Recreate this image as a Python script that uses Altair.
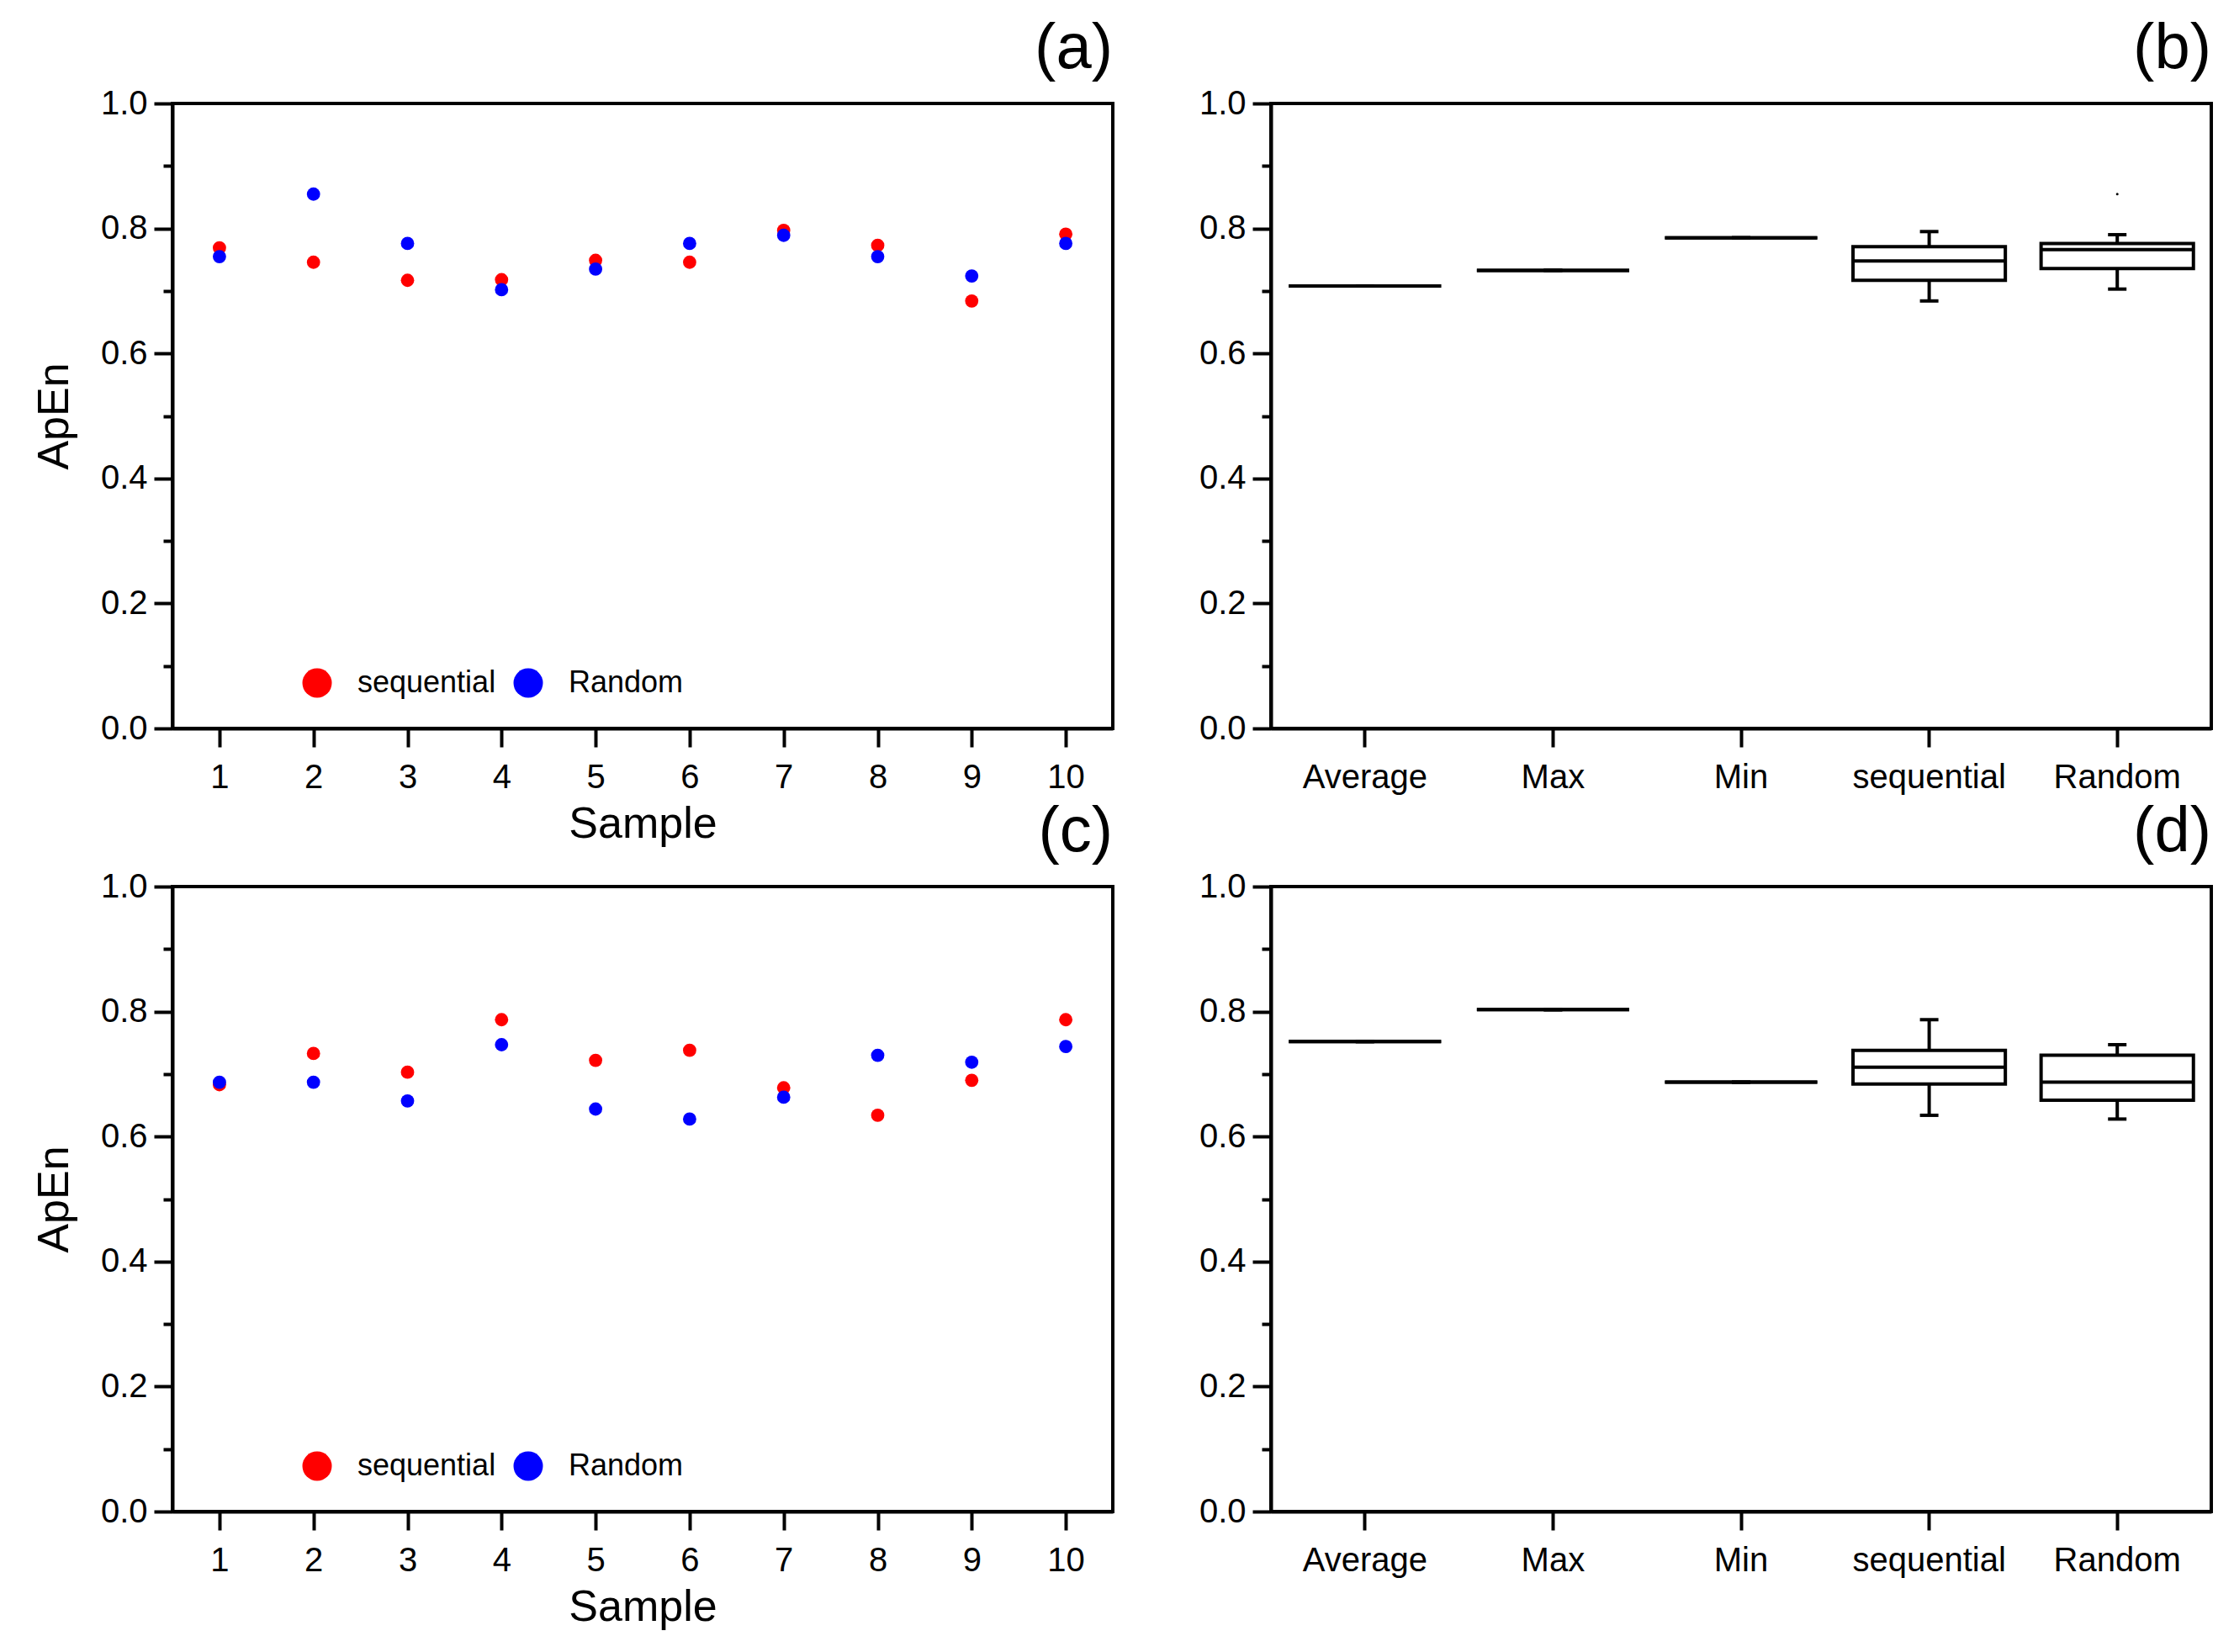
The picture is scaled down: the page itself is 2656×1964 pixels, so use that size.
import altair as alt
import pandas as pd

# panel (a) / (c): ApEn per sample
samples = [1, 2, 3, 4, 5, 6, 7, 8, 9, 10]
a_seq = [0.769, 0.746, 0.717, 0.718, 0.749, 0.746, 0.797, 0.773, 0.684, 0.791]
a_rnd = [0.755, 0.855, 0.776, 0.702, 0.735, 0.776, 0.789, 0.755, 0.724, 0.776]
c_seq = [0.683, 0.733, 0.703, 0.787, 0.722, 0.738, 0.678, 0.634, 0.690, 0.787]
c_rnd = [0.687, 0.687, 0.657, 0.747, 0.644, 0.628, 0.663, 0.730, 0.719, 0.744]
groups = ["sequential", "Random"]
group_colors = ["#ff0000", "#0000ff"]

# panel (b) / (d): box summaries
cats = ["Average", "Max", "Min", "sequential", "Random"]
b_low = [0.708, 0.733, 0.785, 0.684, 0.703]
b_q1 = [0.708, 0.733, 0.785, 0.717, 0.736]
b_med = [0.708, 0.733, 0.785, 0.748, 0.766]
b_q3 = [0.708, 0.733, 0.785, 0.771, 0.776]
b_high = [0.708, 0.733, 0.785, 0.795, 0.790]
b_out_cat = ["Random"]
b_out_val = [0.855]

d_low = [0.752, 0.803, 0.687, 0.634, 0.628]
d_q1 = [0.752, 0.803, 0.687, 0.684, 0.658]
d_med = [0.752, 0.803, 0.687, 0.711, 0.687]
d_q3 = [0.752, 0.803, 0.687, 0.738, 0.730]
d_high = [0.752, 0.803, 0.687, 0.787, 0.747]

major = [0.0, 0.2, 0.4, 0.6, 0.8, 1.0]
minor = [0.1, 0.3, 0.5, 0.7, 0.9]

PW, PH = 1118, 743
LW = 4

yscale = alt.Scale(domain=[0, 1], nice=False, zero=False)


def y_axis(title):
    return alt.Axis(values=major, format=".1f", tickSize=22, labelPadding=8,
                    title=title, titlePadding=28)


def minor_ticks():
    # second left axis that only draws the short minor ticks
    return alt.Chart(pd.DataFrame({"v": minor})).mark_rule(opacity=0).encode(
        y=alt.Y("v:Q", scale=yscale,
                axis=alt.Axis(values=minor, labels=False, domain=False,
                              tickSize=11, orient="left", title=None))
    )


def panel_title(tag):
    return alt.Title(tag, anchor="end", frame="group", fontSize=76,
                     fontWeight="normal", offset=6)


def scatter(seq, rnd, tag):
    df = pd.DataFrame({
        "sample": samples + samples,
        "ApEn": seq + rnd,
        "group": [groups[0]] * len(seq) + [groups[1]] * len(rnd),
    })
    pts = alt.Chart(df).mark_circle(size=250, opacity=1).encode(
        x=alt.X("sample:Q",
                scale=alt.Scale(domain=[0.5, 10.5], nice=False, zero=False),
                axis=alt.Axis(values=samples, format="d", tickSize=22,
                              labelPadding=16, title="Sample", titlePadding=10)),
        y=alt.Y("ApEn:Q", scale=yscale, axis=y_axis("ApEn")),
        color=alt.Color("group:N",
                        scale=alt.Scale(domain=groups, range=group_colors),
                        legend=alt.Legend(title=None, orient="none", legendX=154,
                                          legendY=671, direction="horizontal",
                                          symbolType="circle", symbolSize=1225,
                                          symbolStrokeWidth=0, symbolOpacity=1,
                                          labelFontSize=36, labelOffset=30,
                                          labelLimit=0, columnPadding=20,
                                          padding=0)),
    )
    return (
        alt.layer(pts, minor_ticks())
        .resolve_axis(y="independent")
        .properties(width=PW, height=PH, title=panel_title(tag))
    )


def boxes(low, q1, med, q3, high, tag, out_cat=None, out_val=None):
    df = pd.DataFrame({"cat": cats, "low": low, "q1": q1, "med": med,
                       "q3": q3, "high": high})
    base = alt.Chart(df).encode(
        x=alt.X("cat:N", sort=cats,
                scale=alt.Scale(paddingInner=0.19, paddingOuter=0.095),
                axis=alt.Axis(labelAngle=0, tickSize=22, labelPadding=16,
                              labelLimit=0, title=None))
    )
    whisk_lo = base.mark_rule(color="black", strokeWidth=LW).encode(
        y=alt.Y("low:Q", scale=yscale, axis=y_axis(None)), y2="q1:Q")
    whisk_hi = base.mark_rule(color="black", strokeWidth=LW).encode(
        y="q3:Q", y2="high:Q")
    box = base.mark_bar(fill="white", stroke="black", strokeWidth=LW).encode(
        y="q1:Q", y2="q3:Q")
    median = base.mark_tick(color="black", thickness=LW, size=181,
                            opacity=1).encode(y="med:Q")
    cap_lo = base.mark_tick(color="black", thickness=LW, size=22,
                            opacity=1).encode(y="low:Q")
    cap_hi = base.mark_tick(color="black", thickness=LW, size=22,
                            opacity=1).encode(y="high:Q")
    layers = [whisk_lo, whisk_hi, box, median, cap_lo, cap_hi]
    if out_cat:
        odf = pd.DataFrame({"cat": out_cat, "val": out_val})
        layers.append(
            alt.Chart(odf).mark_circle(size=9, color="black", opacity=1).encode(
                x=alt.X("cat:N", sort=cats), y="val:Q")
        )
    main = alt.layer(*layers)
    return (
        alt.layer(main, minor_ticks())
        .resolve_axis(y="independent")
        .properties(width=PW, height=PH, title=panel_title(tag))
    )


pa = scatter(a_seq, a_rnd, "(a)")
pb = boxes(b_low, b_q1, b_med, b_q3, b_high, "(b)", b_out_cat, b_out_val)
pc = scatter(c_seq, c_rnd, "(c)")
pd_ = boxes(d_low, d_q1, d_med, d_q3, d_high, "(d)")

chart = (
    alt.concat(pa, pb, pc, pd_, columns=2, spacing=188, bounds="flush")
    .resolve_scale(color="independent")
    .resolve_legend(color="independent")
    .properties(padding={"left": 28, "top": 10, "right": 10, "bottom": 10})
    .configure(font="Liberation Sans")
    .configure_view(stroke="black", strokeWidth=LW)
    .configure_axis(domainColor="black", domainWidth=LW, tickColor="black",
                    tickWidth=LW, labelColor="black", titleColor="black",
                    labelFontSize=40, titleFontSize=52, titleFontWeight="normal",
                    grid=False)
    .configure_legend(labelColor="black")
    .configure_title(color="black")
)

chart.save("out.html", embed_options={"renderer": "svg", "actions": False})
